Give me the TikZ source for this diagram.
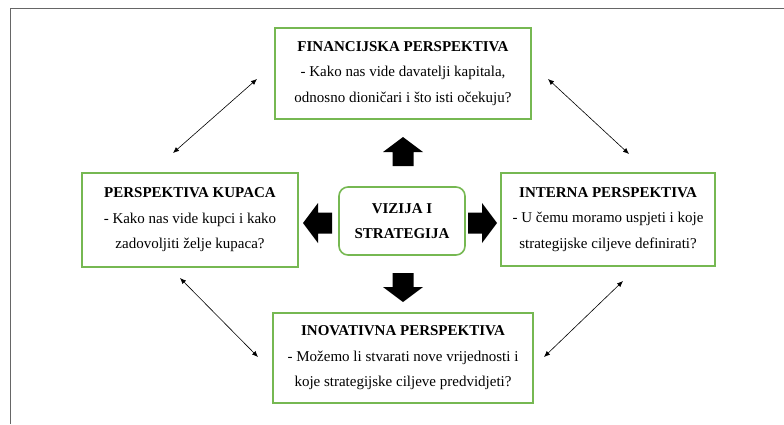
\documentclass[tikz,border=0pt]{standalone}
\usepackage{fontspec}
\setmainfont{Liberation Serif}
\usepackage{tikz}
\usetikzlibrary{arrows.meta}
\definecolor{boxgreen}{RGB}{118,184,82}
\newcommand{\blockarrow}[2]{
	\begin{scope}[shift={(#1)},rotate=#2]
	\fill[black] (0,0) -- (20,15) -- (10.5,15) -- (10.5,29) -- (-10.5,29) -- (-10.5,15) -- (-20,15) -- cycle;
	\end{scope}
}
\tikzset{
	perspbox/.style={draw=boxgreen, line width=1.6pt, align=center, inner sep=0pt,
		font=\fontsize{15}{25.5}\selectfont},
	link/.style={{Latex[length=6pt,width=5pt]}-{Latex[length=6pt,width=5pt]}, line width=0.6pt}
}

\begin{document}
\begin{tikzpicture}[x=1pt,y=-1pt]
	\useasboundingbox (0,0) rectangle (784,424);
	\draw[black!60, line width=1pt] (10,424) -- (10,8) -- (784,8);

	\node[perspbox, minimum width=256, minimum height=91] (fin) at (403,73.5)
		{\textbf{FINANCIJSKA PERSPEKTIVA}\\- Kako nas vide davatelji kapitala,\\odnosno dioničari i što isti očekuju?};
	\node[perspbox, minimum width=216, minimum height=94] (kup) at (190,220)
		{\textbf{PERSPEKTIVA KUPACA}\\- Kako nas vide kupci i kako\\zadovoljiti želje kupaca?};
	\node[perspbox, minimum width=214, minimum height=93] (int) at (608,219.5)
		{\textbf{INTERNA PERSPEKTIVA}\\- U čemu moramo uspjeti i koje\\strategijske ciljeve definirati?};
	\node[perspbox, minimum width=260, minimum height=90] (ino) at (403,358)
		{\textbf{INOVATIVNA PERSPEKTIVA}\\- Možemo li stvarati nove vrijednosti i\\koje strategijske ciljeve predvidjeti?};
	\node[perspbox, rounded corners=9pt, minimum width=126, minimum height=68] (viz) at (402,221)
		{\textbf{VIZIJA I}\\\textbf{STRATEGIJA}};

	\blockarrow{403,137}{0}
	\blockarrow{303,223}{90}
	\blockarrow{497,223}{-90}
	\blockarrow{403,302}{180}

	\coordinate (fk) at (173,153);
	\coordinate (kf) at (257,79);
	\coordinate (fi) at (548,79);
	\coordinate (if) at (629,154);
	\coordinate (ko) at (180,278);
	\coordinate (ok) at (258,357);
	\coordinate (io) at (623,281);
	\coordinate (oi) at (544,357);

	\draw[link] (fk) -- (kf);
	\draw[link] (fi) -- (if);
	\draw[link] (ko) -- (ok);
	\draw[link] (io) -- (oi);
\end{tikzpicture}
\end{document}
